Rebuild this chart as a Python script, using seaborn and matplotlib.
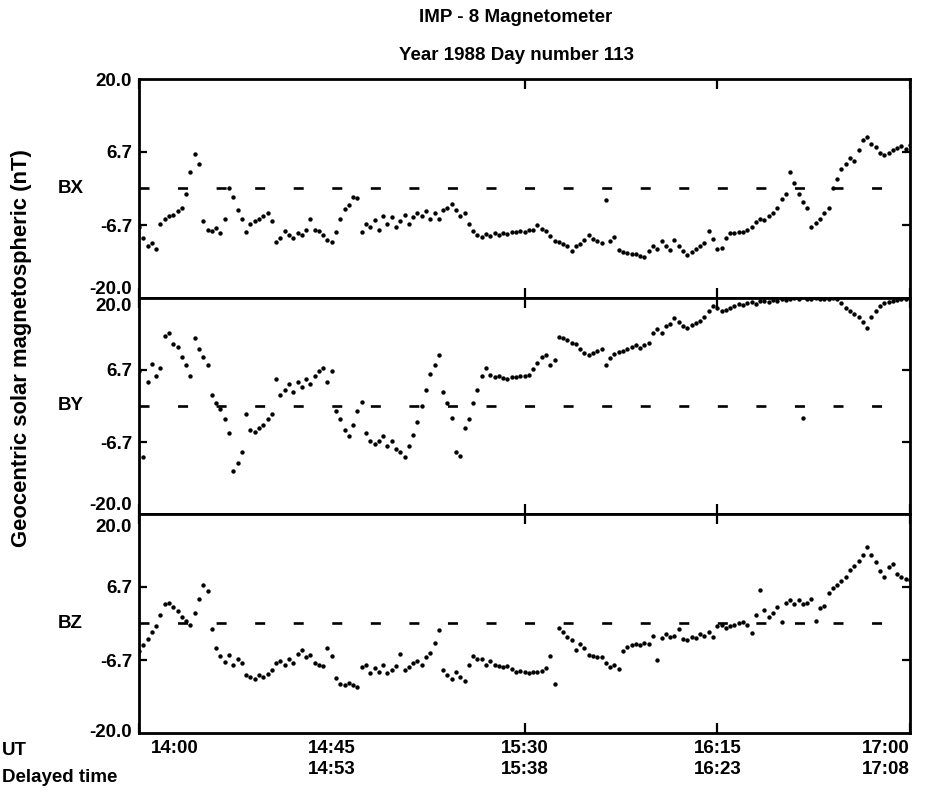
import numpy as np
import pandas as pd
import matplotlib
matplotlib.use("Agg")
import matplotlib.pyplot as plt
import matplotlib.transforms as mtransforms
import seaborn as sns

# One-minute samples, 14:00 UT to 17:00 UT (minutes after 14:00)
minutes = list(range(0, 181))

bx = [-7, -9, -10.5, -10, -11, -6.5, -5.5, -5, -4.8, -4.2,
      -3.5, -1, 3, 6.3, 4.5, -6, -7.5, -7.8, -7.2, -8.2,
      -5.5, 0, -1.5, -4, -5.5, -8, -6.5, -6, -5.5, -5,
      -4.5, -6, -9.8, -9, -7.8, -8.5, -9, -8.2, -8.5, -7.5,
      -5.5, -7.5, -7.8, -8.5, -9.5, -9.8, -8, -5.5, -3.8, -3,
      -1.5, -1.8, -8, -6.5, -7, -5.8, -7.5, -5, -6.5, -5.2,
      -7, -6, -4.8, -6.5, -5.2, -4.5, -5, -4.2, -5.5, -4.5,
      -5.5, -4, -3.5, -2.8, -4, -5, -4.5, -6.5, -7.8, -8.5,
      -8.8, -8.4, -8.6, -8.2, -8.5, -8.1, -8.3, -7.9, -8.0, -7.7,
      -7.9, -7.5, -7.6, -6.7, -7.4, -7.8, -8.6, -9.6, -9.8, -10.2,
      -10.6, -11.4, -10.6, -10.2, -9.5, -8.5, -9.2, -9.6, -10, -2.1,
      -9.6, -8.8, -11.3, -11.6, -11.8, -11.9, -12.0, -12.3, -12.6, -11.5,
      -10.5, -11, -9.6, -10.5, -11.2, -9.5, -10.5, -11.5, -12.2, -11.6,
      -11, -10.5, -10, -7.8, -9.2, -11, -10.8, -9, -8.2, -8.2,
      -8, -7.9, -7.5, -7, -6.2, -5.5, -5.8, -5, -4.5, -3.5,
      -2, -1, 3, 1, -1, -2.5, -3.5, -7, -6.3, -5.5,
      -4.5, -3.5, 0, 1.8, 3.5, 4.5, 5.5, 5, 7, 8.8,
      9.4, 8.2, 7.5, 6.5, 6.2, 6.4, 7, 7.4, 7.8, 7.2,
      8]

by = [6.5, -9.5, 4.5, 7.8, 5.5, 7, 13, 13.5, 11.5, 11,
      9, 7.5, 5.5, 12.5, 10.5, 9, 7.5, 2, 0.5, -0.5,
      -2.5, -5, -12, -10.5, -8.5, -1.5, -4.5, -4.8, -4, -3.5,
      -2.5, -1.5, 5, 2, 3, 4, 2.5, 4.5, 3.5, 5,
      4, 5.5, 6.5, 7, 4.5, 6.5, -1, -2.5, -4.5, -5.6,
      -3.5, -1, 0.7, -5, -6.5, -7, -6.5, -5.5, -7.5, -6.5,
      -8, -8.5, -9.5, -7.5, -5.4, -3, 0, 3, 6, 7.5,
      9.4, 2.6, 0.5, -2.2, -8.5, -9.2, -4, -2.5, 0.5, 3,
      5.5, 7, 5.8, 5.4, 5.6, 5.2, 5.0, 5.3, 5.4, 5.5,
      5.6, 5.8, 6.8, 8, 9, 9.4, 7.5, 8.5, 12.8, 12.5,
      12.2, 11.7, 11.4, 10.5, 9.8, 9.5, 9.8, 10.2, 10.6, 7.5,
      8.8, 9.6, 10, 10.2, 10.6, 11, 11.2, 10.8, 11.3, 11.6,
      13.5, 14.2, 13.5, 14.8, 15.2, 16.2, 15.6, 14.8, 14.5, 15,
      15.4, 15.8, 16.4, 17.5, 18.5, 18.2, 17.5, 17.7, 18.2, 18.6,
      18.8, 18.7, 19, 19.2, 18.8, 19.4, 19.5, 19.2, 19.7, 19.5,
      19.8, 19.6, 19.8, 20, 19.8, -2.2, 19.9, 19.8, 20, 19.9,
      19.8, 19.9, 20, 19.8, 19, 18.2, 17.5, 17, 16.5, 15.6,
      14.4, 16.5, 17.5, 18.5, 19, 19.3, 19.5, 19.6, 19.8, 19.9,
      20]

bz = [-5, -4, -2.8, -1.5, -0.5, 1.5, 3.5, 3.8, 3, 2.2,
      1.2, 0.5, -0.3, 2, 4.5, 7, 6, -1, -4.5, -6,
      -7, -5.8, -7.5, -6.5, -7.2, -9.5, -9.8, -10.2, -9.5, -9.8,
      -9.2, -8.5, -7.2, -6.8, -7.5, -6.5, -7.2, -5.5, -4.8, -6.2,
      -5.8, -7.2, -7.5, -7.8, -4.5, -6, -10, -11, -11.3, -10.8,
      -11.2, -11.6, -8, -7.5, -9, -8.2, -8.8, -7.5, -9, -8.5,
      -7.8, -5.5, -8.5, -8, -7.2, -6.8, -7.5, -6.2, -5.4, -3.6,
      -1.2, -8.5, -9.5, -10.2, -8.8, -9.8, -10.5, -7.5, -6, -6.5,
      -6.5, -7.5, -6.8, -7.6, -7.8, -7.9, -7.8, -8.4, -8.9, -8.7,
      -8.9, -9, -8.9, -8.8, -8.6, -8.2, -6, -11, -0.8, -1.5,
      -2.4, -3, -4.9, -3.8, -4.5, -5.8, -6, -6.1, -6.2, -7.3,
      -8, -7.5, -8.4, -5, -4.3, -4, -3.8, -4, -3.6, -3.8,
      -2.2, -6.7, -2.6, -2, -2.5, -2.3, -1, -2.8, -3, -2.5,
      -2.7, -2, -2.2, -1.5, -2.4, -0.5, -0.2, -0.8, -0.5, -0.3,
      0, 0.2, -0.3, -1.8, 1.5, 6.1, 2.5, 1.2, 2, 3,
      0.2, 3.8, 4.2, 3.5, 4.3, 3.5, 3.8, 4.4, 0.5, 2.8,
      3.2, 5.5, 6.5, 7, 7.8, 8.5, 9.8, 10.5, 11.5, 12.5,
      14, 12.5, 11.2, 9.5, 8.4, 10.3, 10.8, 9, 8.4, 8.2,
      8]

components = ["BX", "BY", "BZ"]
ut_ticks = [0, 45, 90, 135, 180]
ut_labels = ["14:00", "14:45", "15:30", "16:15", "17:00"]
delayed_labels = ["", "14:53", "15:38", "16:23", "17:08"]
y_ticks = [-20.0, -6.7, 6.7, 20.0]
y_ticklabels = ["-20.0", "-6.7", "6.7", "20.0"]

df = pd.DataFrame({
    "minute": minutes * 3,
    "value": bx + by + bz,
    "component": [c for c in components for _ in minutes],
})

sns.set_theme(style="white")
plt.rcParams["font.family"] = ["Liberation Sans", "DejaVu Sans"]
plt.rcParams["font.weight"] = "bold"
plt.rcParams["lines.scale_dashes"] = False
for key in ("text.color", "axes.labelcolor", "xtick.color", "ytick.color",
            "axes.edgecolor"):
    plt.rcParams[key] = "black"

FS = 13.5
fig = plt.figure(figsize=(9.4, 7.95), dpi=100)

rects = [
    [0.1479, 0.6252, 0.8202, 0.2755],
    [0.1479, 0.3535, 0.8202, 0.2717],
    [0.1479, 0.0780, 0.8202, 0.2755],
]

axes = []
for i, (comp, rect) in enumerate(zip(components, rects)):
    ax = fig.add_axes(rect)
    axes.append(ax)
    sub = df[df["component"] == comp]
    sns.scatterplot(data=sub, x="minute", y="value", ax=ax, color="black",
                    s=10, linewidth=0, legend=False)
    ax.axhline(0, color="black", lw=1.9, linestyle=(0, (7.2, 20.56)),
               dash_capstyle="butt")
    ax.set_xlim(0, 180)
    ax.set_ylim(-20, 20)
    ax.set_xlabel("")
    ax.set_ylabel("")
    for sp in ax.spines.values():
        sp.set_visible(True)
        sp.set_color("black")
        sp.set_linewidth(2.0)
    ax.set_yticks(y_ticks)
    ax.set_yticklabels(y_ticklabels, fontsize=FS, fontweight="bold")
    ax.tick_params(axis="y", which="major", direction="in", length=6, width=1.6,
                   left=True, right=True, labelleft=True, labelright=False,
                   pad=5, colors="black")
    # tick marks only at the inner values, not at the panel edges
    for t in ax.yaxis.get_major_ticks():
        if abs(t.get_loc()) > 19:
            t.tick1line.set_visible(False)
            t.tick2line.set_visible(False)
    ax.set_xticks(ut_ticks)
    ax.tick_params(axis="x", which="major", direction="in", length=7, width=1.6,
                   top=True, bottom=True, colors="black")
    for t in ax.xaxis.get_major_ticks():
        if t.get_loc() in (0, 180):
            t.tick1line.set_visible(False)
            t.tick2line.set_visible(False)
    labels = ax.get_yticklabels()
    if i == 0:
        labels[0].set_va("bottom")
        labels[3].set_va("center")
        labels[3].set_transform(labels[3].get_transform() +
                                mtransforms.ScaledTranslation(0, -3 / 100, fig.dpi_scale_trans))
    elif i == 1:
        labels[0].set_va("bottom")
        labels[3].set_va("top")
    else:
        labels[0].set_va("center")
        labels[3].set_va("top")
        labels[3].set_transform(labels[3].get_transform() +
                                mtransforms.ScaledTranslation(0, -5 / 100, fig.dpi_scale_trans))
    ax.text(-0.105, 0, comp, transform=mtransforms.blended_transform_factory(
        ax.transAxes, ax.transData), ha="left", va="center",
        fontsize=FS, fontweight="bold", color="black")
    if i < 2:
        ax.set_xticklabels([])

ax3 = axes[2]
ax3.set_xticklabels([f"{u}\n{d}" for u, d in zip(ut_labels, delayed_labels)],
                    fontsize=FS, fontweight="bold", linespacing=1.35)
ax3.tick_params(axis="x", pad=5)
xl = ax3.get_xticklabels()
xl[0].set_ha("left")
xl[0].set_multialignment("left")
xl[0].set_transform(xl[0].get_transform() +
                    mtransforms.ScaledTranslation(12 / 100, 0, fig.dpi_scale_trans))
xl[-1].set_ha("right")
xl[-1].set_multialignment("right")

fig.text(0.002, 0.0556, "UT", ha="left", va="center", fontsize=FS,
         fontweight="bold")
fig.text(0.002, 0.0225, "Delayed time", ha="left", va="center", fontsize=FS,
         fontweight="bold")

fig.text(0.549, 0.978, "IMP - 8 Magnetometer", ha="center", va="center",
         fontsize=FS, fontweight="bold")
fig.text(0.549, 0.930, "Year 1988 Day number 113", ha="center", va="center",
         fontsize=FS, fontweight="bold")
fig.text(0.0234, 0.562, "Geocentric solar magnetospheric (nT)", rotation=90,
         ha="center", va="center", fontsize=15.8, fontweight="bold")

fig.savefig("out.png", dpi=100, facecolor="white")
